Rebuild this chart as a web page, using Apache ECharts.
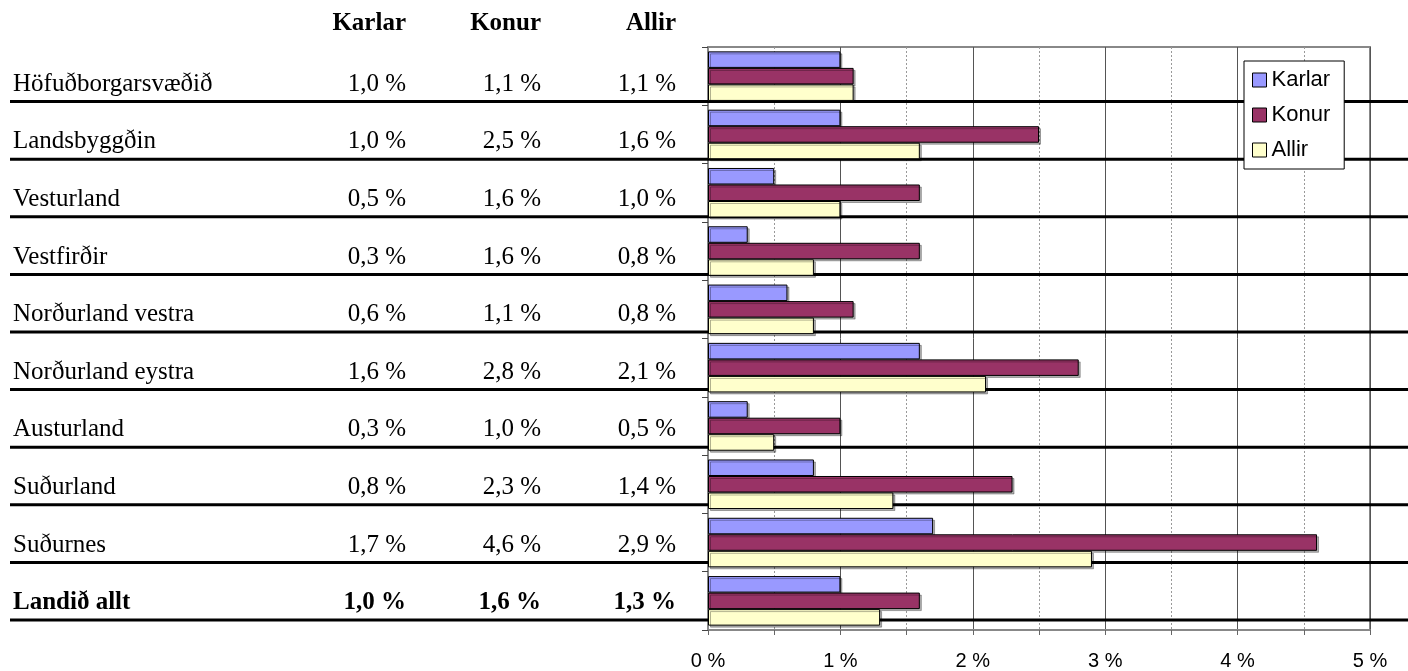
<!DOCTYPE html>
<html>
<head>
<meta charset="utf-8">
<script src="https://cdn.jsdelivr.net/npm/echarts@6/dist/echarts.min.js"></script>
<style>
  html, body { margin: 0; padding: 0; background: #fff; }
  #chart { width: 1408px; height: 671px; }
</style>
</head>
<body>
<div id="chart"></div>
<script>
  // gögn
  const categories = ['Höfuðborgarsvæðið', 'Landsbyggðin', 'Vesturland', 'Vestfirðir', 'Norðurland vestra',
    'Norðurland eystra', 'Austurland', 'Suðurland', 'Suðurnes', 'Landið allt'];
  const karlar = [1.0, 1.0, 0.5, 0.3, 0.6, 1.6, 0.3, 0.8, 1.7, 1.0];
  const konur  = [1.1, 2.5, 1.6, 1.6, 1.1, 2.8, 1.0, 2.3, 4.6, 1.6];
  const allir  = [1.1, 1.6, 1.0, 0.8, 0.8, 2.1, 0.5, 1.4, 2.9, 1.3];
  const seriesNames = ['Karlar', 'Konur', 'Allir'];
  const seriesData = [karlar, konur, allir];
  const colors = ['#9999FF', '#993366', '#FFFFCC'];

  const serif = 'Liberation Serif';
  const sans = 'Liberation Sans';
  const tableLeft = 13;
  const tableAnchor = 676;          // hægri brún töflunnar
  const colRight = [406, 541, 676];  // hægri brún dálka
  const last = categories.length - 1;

  const fmt = v => v.toFixed(1).replace('.', ',') + ' %';

  const chart = echarts.init(document.getElementById('chart'));

  const tableAxis = (margin, align, formatter) => ({
    type: 'category',
    gridIndex: 1,
    position: 'left',
    offset: 0,
    inverse: true,
    data: categories,
    axisLine: { show: false },
    axisTick: { show: false },
    splitLine: { show: false },
    axisLabel: {
      interval: 0,
      margin: margin,
      align: align,
      padding: [23, 0, 0, 0],
      fontFamily: serif,
      fontSize: 25,
      color: '#000',
      formatter: formatter,
      rich: { b: { fontFamily: serif, fontSize: 25, fontWeight: 'bold', color: '#000' } }
    }
  });

  const bold = (txt, i) => i === last ? '{b|' + txt + '}' : txt;

  const option = {
    animation: false,
    backgroundColor: '#fff',
    grid: [
      { left: 708, right: 38, top: 47, bottom: 40, show: true, borderColor: '#888', borderWidth: 2 },
      { left: tableAnchor, right: 1408 - tableAnchor - 14, top: 44, bottom: 51 }
    ],
    legend: {
      orient: 'vertical',
      left: 1244,
      top: 61,
      data: seriesNames,
      icon: 'rect',
      itemWidth: 14,
      itemHeight: 14,
      itemGap: 13,
      itemTextGap: 6,
      padding: [8, 14, 8, 8],
      backgroundColor: '#fff',
      borderColor: '#000',
      borderWidth: 1,
      z: 10,
      textStyle: { fontFamily: sans, fontSize: 22, color: '#000' },
      itemStyle: { borderColor: '#000', borderWidth: 1, shadowColor: 'transparent', shadowOffsetX: 0, shadowOffsetY: 0 }
    },
    xAxis: [
      {
        type: 'value',
        min: 0, max: 5, interval: 1,
        axisLine: { show: true, lineStyle: { color: '#888', width: 2 } },
        axisTick: { show: true, length: 5, lineStyle: { color: '#666' } },
        minorTick: { show: true, splitNumber: 2, length: 5, lineStyle: { color: '#666' } },
        splitLine: { show: true, lineStyle: { color: '#555', width: 1 } },
        minorSplitLine: { show: true, lineStyle: { color: '#999', width: 1, type: [2, 2] } },
        axisLabel: { margin: 21, fontFamily: sans, fontSize: 20, color: '#000', formatter: v => v + ' %' }
      },
      { type: 'value', gridIndex: 1, show: false }
    ],
    yAxis: [
      {
        type: 'category',
        inverse: true,
        data: categories,
        axisLabel: { show: false },
        axisLine: { show: true, lineStyle: { color: '#888', width: 2 } },
        axisTick: { show: true, length: 6, lineStyle: { color: '#444' } },
        splitLine: { show: false }
      },
      tableAxis(tableAnchor - tableLeft, 'left', (v, i) => bold(v, i)),
      tableAxis(tableAnchor - colRight[0], 'right', (v, i) => bold(fmt(karlar[i]), i)),
      tableAxis(tableAnchor - colRight[1], 'right', (v, i) => bold(fmt(konur[i]), i)),
      tableAxis(tableAnchor - colRight[2], 'right', (v, i) => bold(fmt(allir[i]), i))
    ],
    series: seriesNames.map((name, k) => ({
      name: name,
      type: 'bar',
      data: seriesData[k],
      barGap: '0%',
      barCategoryGap: '15%',
      z: 3,
      itemStyle: {
        color: colors[k],
        borderColor: '#000',
        borderWidth: 1,
        shadowColor: 'rgba(0,0,0,0.3)',
        shadowOffsetX: 2,
        shadowOffsetY: 2,
        shadowBlur: 0
      }
    }))
  };

  chart.setOption(option);

  // þykkar línur undir hverri röð töflunnar og fyrirsagnir
  const p0 = chart.convertToPixel({ yAxisIndex: 1 }, categories[0]);
  const p1 = chart.convertToPixel({ yAxisIndex: 1 }, categories[1]);
  const band = p1 - p0;
  const graphics = categories.map((c, i) => {
    const y = chart.convertToPixel({ yAxisIndex: 1 }, c) + band / 2;
    return {
      type: 'line',
      z: 1,
      shape: { x1: 10, y1: y, x2: 1408, y2: y },
      style: { stroke: '#000', lineWidth: 3 }
    };
  });
  seriesNames.forEach((name, k) => {
    graphics.push({
      type: 'text',
      x: colRight[k],
      y: 24,
      style: {
        text: name,
        align: 'right',
        verticalAlign: 'middle',
        font: 'bold 25px "' + serif + '"',
        fill: '#000'
      }
    });
  });
  chart.setOption({ graphic: graphics });
</script>
</body>
</html>
